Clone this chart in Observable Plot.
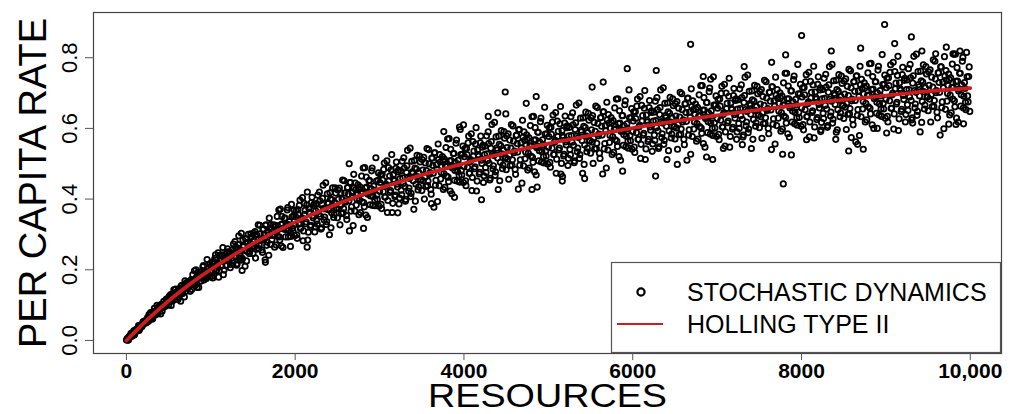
<!DOCTYPE html>
<html>
<head>
<meta charset="utf-8">
<script src="https://cdn.jsdelivr.net/npm/d3@7"></script>
<script src="https://cdn.jsdelivr.net/npm/@observablehq/plot@0.6"></script>
<style>
  html, body { margin: 0; padding: 0; background: #fff; }
  #chart { width: 1029px; height: 414px; }
  #chart svg { display: block; }
</style>
</head>
<body>
<div id="chart"></div>
<script>
// ---- data ----
const xTicks = [0, 2000, 4000, 6000, 8000, 10000];
const xTickLabels = ["0", "2000", "4000", "6000", "8000", "10,000"];
const yTicks = [0, 0.2, 0.4, 0.6, 0.8];
const yTickLabels = ["0.0", "0.2", "0.4", "0.6", "0.8"];
const xLabel = "RESOURCES";
const yLabel = "PER CAPITA RATE";
const legendLabels = ["STOCHASTIC DYNAMICS", "HOLLING TYPE II"];

// Holling type II curve (resources, per capita rate)
const hollingResources = [0, 250, 500, 750, 1000, 1500, 2000, 2500, 3000, 3500, 4000, 4500, 5000, 5500, 6000, 6500, 7000, 7500, 8000, 8500, 9000, 9500, 10000];
const hollingRates = [0, .059, .112, .159, .201, .274, .335, .386, .430, .468, .501, .531, .557, .580, .601, .620, .637, .653, .668, .681, .693, .705, .714];

// stochastic dynamics points: [resources, per capita rate] (first half)
const stochasticPointsA = [
[6,.003],[18,.001],[31,.011],[44,.009],[56,.020],[69,.013],[81,.020],[93,.015],[107,.030],[119,.031],[131,.029],[144,.042],[157,.032],[168,.041],[181,.039],[194,.050],[206,.048],[218,.054],[232,.049],[244,.058],
[255,.055],[268,.073],[279,.064],[293,.075],[306,.060],[318,.077],[331,.091],[342,.072],[356,.082],[369,.075],[381,.096],[394,.092],[406,.075],[419,.100],[430,.093],[443,.111],[457,.096],[468,.107],[481,.115],[494,.108],
[506,.125],[517,.110],[531,.099],[544,.129],[556,.125],[570,.116],[581,.145],[593,.128],[606,.119],[619,.145],[632,.142],[643,.111],[656,.156],[669,.137],[681,.147],[694,.169],[707,.139],[718,.159],[731,.153],[744,.167],
[756,.139],[769,.172],[781,.166],[794,.158],[806,.197],[818,.156],[831,.179],[844,.192],[857,.150],[868,.179],[881,.194],[893,.178],[906,.208],[919,.171],[931,.194],[943,.180],[956,.229],[969,.189],[981,.207],[993,.181],
[1004,.210],[1017,.182],[1031,.224],[1043,.202],[1056,.242],[1068,.197],[1082,.216],[1093,.179],[1106,.241],[1119,.231],[1131,.213],[1143,.263],[1157,.199],[1169,.233],[1181,.211],[1194,.251],[1206,.230],[1219,.248],[1231,.206],[1244,.242],
[1256,.225],[1268,.273],[1281,.239],[1294,.264],[1306,.213],[1319,.261],[1332,.296],[1343,.233],[1356,.254],[1368,.227],[1381,.284],[1393,.266],[1406,.210],[1418,.277],[1431,.252],[1444,.300],[1456,.246],[1469,.275],[1482,.293],[1493,.266],
[1505,.303],[1518,.265],[1530,.233],[1543,.299],[1556,.287],[1569,.260],[1581,.326],[1594,.283],[1606,.256],[1618,.314],[1631,.301],[1644,.228],[1656,.327],[1668,.278],[1681,.299],[1693,.346],[1706,.272],[1719,.315],[1731,.297],[1743,.327],
[1756,.264],[1768,.326],[1781,.312],[1793,.294],[1806,.369],[1818,.284],[1832,.328],[1843,.351],[1856,.263],[1869,.319],[1881,.346],[1893,.313],[1906,.369],[1919,.293],[1931,.336],[1944,.306],[1956,.385],[1968,.318],[1981,.352],[1994,.296],
[2006,.350],[2019,.299],[2031,.370],[2043,.329],[2057,.397],[2068,.318],[2081,.347],[2094,.282],[2106,.388],[2118,.368],[2131,.335],[2144,.420],[2156,.306],[2169,.363],[2181,.322],[2193,.390],[2206,.353],[2218,.382],[2232,.307],[2244,.367],
[2255,.339],[2268,.411],[2281,.357],[2293,.395],[2306,.315],[2318,.386],[2331,.439],[2344,.341],[2356,.372],[2368,.328],[2381,.415],[2394,.387],[2406,.299],[2419,.400],[2431,.361],[2443,.432],[2456,.348],[2469,.390],[2481,.417],[2493,.374],
[2506,.426],[2518,.372],[2531,.327],[2544,.417],[2556,.399],[2569,.361],[2581,.452],[2593,.391],[2607,.353],[2619,.432],[2631,.414],[2643,.310],[2656,.447],[2668,.378],[2681,.407],[2694,.470],[2706,.366],[2718,.426],[2731,.400],[2744,.440],
[2755,.356],[2768,.435],[2781,.416],[2793,.392],[2806,.488],[2819,.378],[2831,.432],[2843,.462],[2856,.348],[2869,.419],[2881,.453],[2894,.409],[2906,.480],[2918,.382],[2931,.437],[2944,.397],[2956,.517],[2968,.411],[2981,.453],[2993,.380],
[3006,.447],[3018,.385],[3031,.470],[3044,.421],[3056,.502],[3068,.406],[3081,.441],[3093,.362],[3106,.489],[3119,.465],[3131,.424],[3144,.526],[3157,.388],[3168,.456],[3181,.407],[3193,.487],[3206,.442],[3219,.477],[3231,.386],[3243,.458],
[3256,.425],[3268,.507],[3281,.444],[3293,.488],[3306,.394],[3318,.476],[3331,.538],[3344,.422],[3356,.458],[3369,.407],[3381,.507],[3394,.473],[3406,.371],[3419,.488],[3431,.442],[3444,.524],[3456,.426],[3468,.474],[3481,.505],[3494,.455],
[3505,.512],[3518,.452],[3531,.400],[3543,.502],[3556,.481],[3569,.438],[3582,.540],[3593,.470],[3606,.427],[3619,.516],[3631,.495],[3644,.377],[3656,.531],[3668,.453],[3681,.485],[3694,.556],[3706,.438],[3718,.505],[3731,.475],[3744,.520],
[3756,.427],[3768,.513],[3781,.492],[3794,.465],[3806,.570],[3818,.449],[3831,.508],[3843,.541],[3856,.415],[3868,.493],[3881,.529],[3893,.481],[3906,.558],[3919,.451],[3931,.510],[3943,.466],[3956,.597],[3969,.481],[3981,.527],[3994,.447],
[4006,.520],[4019,.452],[4031,.544],[4043,.490],[4056,.578],[4068,.473],[4082,.511],[4094,.424],[4106,.563],[4118,.536],[4131,.491],[4144,.602],[4156,.451],[4169,.526],[4181,.471],[4193,.559],[4206,.510],[4218,.547],[4231,.447],[4244,.526],
[4256,.489],[4268,.579],[4281,.509],[4293,.557],[4306,.454],[4318,.544],[4331,.611],[4344,.485],[4356,.523],[4369,.467],[4381,.576],[4394,.539],[4406,.427],[4419,.555],[4431,.504],[4443,.594],[4456,.486],[4468,.539],[4481,.572],[4494,.517],
[4505,.579],[4518,.513],[4531,.456],[4543,.567],[4556,.544],[4569,.496],[4581,.607],[4594,.531],[4606,.484],[4619,.580],[4631,.557],[4644,.428],[4656,.597],[4668,.511],[4681,.545],[4694,.623],[4706,.494],[4719,.566],[4731,.533],[4743,.582],
[4756,.482],[4769,.574],[4781,.550],[4794,.522],[4806,.633],[4818,.504],[4831,.567],[4844,.602],[4856,.468],[4868,.550],[4881,.589],[4893,.537],[4906,.619],[4919,.505],[4931,.568],[4943,.520],[4956,.660],[4969,.536],[4981,.585],[4993,.499],
[5006,.577],[5018,.504],[5031,.603],[5044,.544],[5056,.638],[5069,.526],[5081,.566],[5093,.473],[5106,.621],[5118,.592],[5131,.544],[5144,.662],[5156,.501],[5169,.580],[5181,.522],[5194,.615],[5206,.562],[5218,.602],[5232,.495],[5244,.579],
[5255,.540],[5268,.633],[5281,.561],[5294,.610],[5306,.503],[5318,.597],[5331,.666],[5343,.534],[5356,.574],[5369,.515],[5381,.629],[5393,.590],[5406,.473],[5419,.606],[5431,.553],[5444,.646],[5456,.534],[5468,.588],[5481,.623],[5494,.565],
[5506,.630],[5519,.561],[5531,.501],[5543,.617],[5556,.592],[5569,.543],[5581,.659],[5594,.579],[5606,.530],[5618,.630],[5631,.606],[5644,.471],[5656,.647],[5669,.557],[5681,.593],[5693,.674],[5706,.539],[5718,.615],[5731,.580],[5744,.631],
[5756,.526],[5768,.622],[5781,.597],[5794,.568],[5806,.683],[5819,.549],[5831,.614],[5843,.650],[5856,.510],[5869,.596],[5881,.636],[5894,.582],[5906,.667],[5918,.548],[5931,.613],[5944,.564],[5956,.709],[5968,.580],[5981,.630],[5993,.541],
[6006,.621],[6018,.547],[6031,.647],[6044,.588],[6056,.683],[6069,.569],[6081,.609],[6093,.515],[6106,.665],[6118,.636],[6131,.586],[6143,.707],[6157,.542],[6169,.623],[6181,.563],[6194,.659],[6206,.604],[6218,.645],[6231,.535],[6244,.621],
[6256,.581],[6268,.677],[6281,.602],[6293,.653],[6306,.543],[6319,.639],[6331,.709],[6344,.574],[6356,.615],[6368,.555],[6381,.671],[6394,.631],[6406,.512],[6419,.647],[6431,.593],[6443,.688],[6456,.573],[6469,.629],[6481,.664],[6494,.605],
[6505,.670],[6518,.601],[6531,.541],[6544,.657],[6556,.632],[6569,.583],[6581,.698],[6593,.618],[6606,.569],[6619,.669],[6631,.645],[6643,.510],[6656,.686],[6669,.596],[6681,.632],[6694,.712],[6706,.577],[6718,.653],[6731,.618],[6744,.669],
[6756,.564],[6768,.660],[6781,.635],[6793,.605],[6806,.721],[6818,.586],[6831,.652],[6844,.687],[6856,.547],[6869,.633],[6881,.673],[6893,.619],[6906,.704],[6919,.584],[6931,.650],[6943,.600],[6956,.746],[6968,.616],[6981,.666],[6994,.577],
[7006,.657],[7018,.583],[7031,.683],[7043,.623],[7056,.719],[7068,.604],[7081,.645],[7094,.550],[7106,.700],[7119,.671],[7131,.621],[7143,.742],[7156,.577],[7169,.657],[7181,.598],[7194,.693],[7206,.639],[7218,.679],[7231,.569],[7243,.655],
[7256,.614],[7268,.712],[7281,.636],[7294,.687],[7306,.576],[7318,.673],[7331,.745],[7343,.607],[7356,.648],[7368,.588],[7381,.705],[7394,.665],[7406,.543],[7418,.681],[7431,.625],[7444,.722],[7456,.606],[7468,.662],[7481,.698],[7494,.638],
[7506,.704],[7518,.633],[7531,.572],[7543,.690],[7556,.665],[7569,.614],[7581,.732],[7594,.651],[7606,.600],[7618,.702],[7631,.677],[7644,.540],[7656,.718],[7669,.627],[7681,.663],[7693,.745],[7706,.608],[7718,.685],[7731,.649],[7744,.701],
[7756,.592],[7768,.692],[7781,.666],[7793,.635],[7806,.756],[7819,.615],[7831,.684],[7843,.720],[7856,.575],[7869,.664],[7881,.706],[7893,.649],[7906,.738],[7918,.613],[7931,.682],[7944,.630],[7956,.781],[7968,.646],[7981,.698],[7994,.606],
[8006,.689],[8018,.611],[8031,.716],[8043,.653],[8056,.752],[8068,.634],[8081,.675],[8094,.576],[8106,.733],[8118,.702],[8131,.650],[8144,.776],[8156,.604],[8169,.688],[8181,.625],[8193,.725],[8206,.668],[8219,.709],[8231,.596],[8244,.684],
[8256,.643],[8268,.742],[8281,.665],[8293,.717],[8306,.603],[8319,.702],[8331,.775],[8344,.635],[8356,.677],[8368,.615],[8381,.735],[8394,.694],[8406,.569],[8419,.710],[8431,.653],[8443,.752],[8456,.633],[8469,.690],[8481,.727],[8494,.665],
[8505,.734],[8518,.660],[8531,.597],[8543,.719],[8556,.693],[8569,.641],[8581,.763],[8594,.678],[8606,.625],[8619,.732],[8631,.705],[8643,.562],[8656,.749],[8669,.653],[8681,.690],[8694,.776],[8706,.633],[8718,.713],[8731,.676],[8744,.729],
[8756,.618],[8769,.720],[8781,.693],[8794,.661],[8806,.783],[8818,.641],[8831,.710],[8844,.747],[8856,.600],[8868,.690],[8881,.732],[8893,.674],[8906,.765],[8919,.638],[8931,.707],[8943,.655],[8956,.809],[8969,.671],[8981,.725],[8993,.629],
[9006,.715],[9018,.634],[9031,.743],[9044,.678],[9056,.780],[9068,.657],[9081,.700],[9093,.598],[9106,.761],[9119,.728],[9131,.674],[9143,.804],[9157,.627],[9168,.713],[9181,.648],[9194,.752],[9206,.693],[9218,.736],[9231,.618],[9244,.710],
[9255,.667],[9268,.769],[9281,.689],[9293,.743],[9306,.624],[9318,.728],[9331,.804],[9344,.658],[9356,.702],[9369,.637],[9381,.761],[9393,.718],[9406,.590],[9419,.735],[9431,.676],[9444,.780],[9456,.655],[9468,.715],[9481,.754],[9494,.689],
[9506,.760],[9518,.683],[9531,.618],[9543,.745],[9556,.717],[9569,.662],[9581,.790],[9594,.701],[9606,.646],[9619,.757],[9631,.730],[9643,.581],[9656,.774],[9668,.675],[9681,.715],[9694,.803],[9706,.654],[9718,.737],[9731,.699],[9744,.754],
[9756,.638],[9768,.743],[9781,.716],[9793,.683],[9806,.810],[9818,.661],[9831,.733],[9843,.772],[9856,.618],[9868,.712],[9881,.756],[9893,.695],[9906,.790],[9919,.658],[9931,.730],[9943,.674],[9956,.815],[9968,.692],[9981,.747],[9994,.648],
[8985,.894],[8001,.863],[9302,.859],[6686,.838],[7784,.443],[7776,.527],[7880,.525],[6948,.512],[8559,.536],[8732,.541],[8665,.555],[8590,.574],[5935,.769],[6279,.764],[4489,.703],[4856,.690],[5519,.717],[5650,.731],[4738,.671],[4288,.634],
[4401,.644],[4496,.641],[3761,.591],[3947,.604],[3995,.610],[6271,.465],[5880,.479],[6528,.498],[5430,.458],[5165,.451],[5168,.464],[4868,.434],[4806,.427],[4208,.398],[3888,.405],[3615,.387],[3216,.361],[2640,.500],[1371,.198],[1647,.221],
[1944,.266],[2142,.264],[2810,.317],[9745,.612],[9830,.611],[9920,.613],[9716,.830],[9104,.840],[8353,.819],[7646,.787],[7321,.775],[6923,.739],[6836,.747],[9427,.819],[9590,.811],[9795,.811],[9878,.819],[7812,.808],[8701,.827],[9317,.615],
[9009,.587],[8898,.600],[8412,.589],[8227,.591],[8060,.568],[7299,.554],[7074,.543],[6875,.519]
];

// stochastic dynamics points: [resources, per capita rate] (second half)
const stochasticPointsB = [
[1,.001],[12,.006],[24,.001],[37,.011],[49,.016],[62,.012],[74,.017],[87,.027],[99,.019],[112,.028],[124,.027],[137,.036],[149,.028],[162,.041],[174,.042],[187,.041],[199,.053],[212,.049],[224,.056],[237,.052],
[251,.065],[262,.054],[274,.066],[287,.079],[299,.066],[312,.062],[324,.082],[337,.078],[349,.076],[362,.099],[374,.077],[387,.091],[399,.089],[412,.102],[424,.083],[437,.103],[449,.101],[462,.098],[474,.117],[487,.107],
[501,.100],[512,.118],[524,.130],[537,.117],[549,.112],[562,.143],[574,.120],[587,.136],[599,.131],[612,.116],[624,.146],[637,.137],[649,.154],[662,.132],[674,.150],[687,.123],[699,.158],[712,.164],[724,.147],[737,.159],
[751,.167],[762,.156],[774,.144],[787,.186],[799,.169],[812,.160],[824,.200],[837,.150],[849,.182],[862,.176],[874,.193],[887,.168],[899,.187],[912,.212],[924,.182],[937,.190],[949,.175],[962,.204],[974,.185],[987,.216],
[1001,.197],[1012,.221],[1024,.177],[1037,.217],[1049,.232],[1062,.196],[1074,.212],[1087,.248],[1099,.196],[1112,.224],[1124,.210],[1137,.242],[1149,.186],[1162,.238],[1174,.231],[1187,.213],[1199,.259],[1212,.227],[1224,.251],[1237,.215],
[1251,.256],[1262,.219],[1274,.247],[1287,.280],[1299,.236],[1312,.217],[1324,.271],[1337,.254],[1349,.239],[1362,.303],[1374,.232],[1387,.268],[1399,.255],[1412,.288],[1424,.225],[1437,.277],[1449,.267],[1462,.252],[1474,.302],[1487,.265],
[1501,.246],[1512,.284],[1524,.308],[1537,.273],[1549,.258],[1562,.327],[1574,.269],[1587,.302],[1599,.286],[1612,.249],[1624,.315],[1637,.288],[1649,.326],[1662,.269],[1674,.307],[1687,.241],[1699,.318],[1712,.328],[1724,.285],[1737,.309],
[1751,.321],[1762,.297],[1774,.270],[1787,.351],[1799,.314],[1812,.293],[1824,.372],[1837,.267],[1849,.330],[1862,.315],[1874,.346],[1887,.293],[1899,.329],[1912,.376],[1924,.313],[1937,.327],[1949,.294],[1962,.350],[1974,.310],[1987,.369],
[2001,.328],[2012,.368],[2024,.289],[2037,.356],[2049,.382],[2062,.317],[2074,.343],[2087,.404],[2099,.310],[2112,.357],[2124,.330],[2137,.384],[2149,.284],[2162,.373],[2174,.360],[2187,.326],[2199,.405],[2212,.347],[2224,.386],[2237,.321],
[2251,.387],[2262,.329],[2274,.371],[2287,.420],[2299,.351],[2312,.319],[2324,.402],[2337,.373],[2349,.349],[2362,.446],[2374,.336],[2387,.390],[2399,.369],[2412,.418],[2424,.319],[2437,.398],[2449,.381],[2462,.356],[2474,.432],[2487,.374],
[2501,.347],[2512,.399],[2524,.431],[2537,.382],[2549,.359],[2562,.454],[2574,.373],[2587,.417],[2599,.395],[2612,.342],[2624,.433],[2637,.395],[2649,.447],[2662,.366],[2674,.418],[2687,.325],[2699,.432],[2712,.445],[2724,.383],[2737,.416],
[2751,.430],[2762,.398],[2774,.362],[2787,.465],[2799,.417],[2812,.390],[2824,.489],[2837,.355],[2849,.434],[2862,.414],[2874,.452],[2887,.384],[2899,.430],[2912,.488],[2924,.407],[2937,.425],[2949,.381],[2962,.451],[2974,.399],[2987,.474],
[3001,.422],[3012,.469],[3024,.373],[3037,.454],[3049,.484],[3062,.406],[3074,.436],[3087,.508],[3099,.396],[3112,.452],[3124,.419],[3137,.483],[3149,.362],[3162,.468],[3174,.452],[3187,.411],[3199,.505],[3212,.434],[3224,.482],[3237,.403],
[3251,.480],[3262,.412],[3274,.460],[3287,.517],[3299,.436],[3312,.399],[3324,.494],[3337,.461],[3349,.431],[3362,.544],[3374,.416],[3387,.477],[3399,.452],[3412,.509],[3424,.394],[3437,.485],[3449,.464],[3462,.435],[3474,.522],[3487,.454],
[3501,.424],[3512,.482],[3524,.518],[3537,.462],[3549,.436],[3562,.543],[3574,.451],[3587,.500],[3599,.475],[3612,.414],[3624,.516],[3637,.473],[3649,.531],[3662,.439],[3674,.497],[3687,.393],[3699,.512],[3712,.526],[3724,.457],[3737,.493],
[3751,.508],[3762,.472],[3774,.433],[3787,.546],[3799,.493],[3812,.462],[3824,.571],[3837,.423],[3849,.509],[3862,.488],[3874,.529],[3887,.453],[3899,.504],[3912,.567],[3924,.478],[3937,.497],[3949,.448],[3962,.526],[3974,.468],[3987,.550],
[4001,.492],[4012,.543],[4024,.438],[4037,.526],[4049,.559],[4062,.473],[4074,.506],[4087,.585],[4099,.461],[4112,.522],[4124,.486],[4137,.556],[4149,.423],[4162,.539],[4174,.521],[4187,.476],[4199,.578],[4212,.501],[4224,.552],[4237,.466],
[4251,.550],[4262,.475],[4274,.528],[4287,.590],[4299,.501],[4312,.459],[4324,.563],[4337,.527],[4349,.494],[4362,.617],[4374,.477],[4387,.544],[4399,.516],[4412,.578],[4424,.452],[4437,.551],[4449,.528],[4462,.496],[4474,.591],[4487,.516],
[4501,.483],[4512,.546],[4524,.585],[4537,.523],[4549,.495],[4562,.611],[4574,.511],[4587,.564],[4599,.536],[4612,.470],[4624,.581],[4637,.533],[4649,.596],[4662,.496],[4674,.559],[4687,.445],[4699,.575],[4712,.590],[4724,.514],[4737,.553],
[4751,.568],[4762,.530],[4774,.488],[4787,.608],[4799,.551],[4812,.518],[4824,.634],[4837,.477],[4849,.568],[4862,.545],[4874,.589],[4887,.508],[4899,.561],[4912,.629],[4924,.534],[4937,.554],[4949,.502],[4962,.584],[4974,.522],[4987,.609],
[5001,.547],[5012,.602],[5024,.490],[5037,.583],[5049,.618],[5062,.526],[5074,.561],[5087,.645],[5099,.513],[5112,.577],[5124,.539],[5137,.613],[5149,.471],[5162,.594],[5174,.575],[5187,.527],[5199,.635],[5212,.553],[5224,.607],[5237,.515],
[5251,.603],[5262,.525],[5274,.580],[5287,.644],[5299,.552],[5312,.508],[5324,.616],[5337,.578],[5349,.544],[5362,.672],[5374,.526],[5387,.595],[5399,.566],[5412,.630],[5424,.498],[5437,.602],[5449,.578],[5462,.544],[5474,.643],[5487,.565],
[5501,.530],[5512,.596],[5524,.636],[5537,.572],[5549,.542],[5562,.663],[5574,.558],[5587,.614],[5599,.584],[5612,.515],[5624,.631],[5637,.581],[5649,.647],[5662,.542],[5674,.608],[5687,.488],[5699,.624],[5712,.639],[5724,.560],[5737,.600],
[5751,.616],[5762,.577],[5774,.532],[5787,.658],[5799,.598],[5812,.564],[5824,.684],[5837,.520],[5849,.615],[5862,.591],[5874,.636],[5887,.552],[5899,.607],[5912,.678],[5924,.578],[5937,.599],[5949,.544],[5962,.630],[5974,.565],[5987,.656],
[6001,.591],[6012,.647],[6024,.532],[6037,.628],[6049,.663],[6062,.569],[6074,.604],[6087,.690],[6099,.555],[6112,.621],[6124,.581],[6137,.657],[6149,.512],[6162,.638],[6174,.618],[6187,.569],[6199,.679],[6212,.595],[6224,.650],[6237,.556],
[6251,.646],[6262,.566],[6274,.622],[6287,.687],[6299,.593],[6312,.548],[6324,.659],[6337,.619],[6349,.585],[6362,.715],[6374,.566],[6387,.636],[6399,.606],[6412,.672],[6424,.537],[6437,.643],[6449,.618],[6462,.584],[6474,.684],[6487,.605],
[6501,.570],[6512,.635],[6524,.676],[6537,.611],[6549,.582],[6562,.702],[6574,.598],[6587,.653],[6599,.624],[6612,.554],[6624,.670],[6637,.620],[6649,.685],[6662,.581],[6674,.646],[6687,.527],[6699,.662],[6712,.678],[6724,.598],[6737,.639],
[6751,.654],[6762,.614],[6774,.570],[6787,.695],[6799,.636],[6812,.601],[6824,.721],[6837,.557],[6849,.652],[6862,.628],[6874,.673],[6887,.588],[6899,.644],[6912,.714],[6924,.615],[6937,.635],[6949,.580],[6962,.666],[6974,.601],[6987,.692],
[7001,.627],[7012,.682],[7024,.568],[7037,.663],[7049,.699],[7062,.604],[7074,.639],[7087,.725],[7099,.590],[7112,.656],[7124,.616],[7137,.691],[7149,.547],[7162,.672],[7174,.653],[7187,.603],[7199,.713],[7212,.629],[7224,.684],[7237,.590],
[7251,.681],[7262,.600],[7274,.656],[7287,.723],[7299,.626],[7312,.581],[7324,.693],[7337,.653],[7349,.618],[7362,.751],[7374,.598],[7387,.670],[7399,.640],[7412,.706],[7424,.569],[7437,.677],[7449,.651],[7462,.616],[7474,.719],[7487,.637],
[7501,.602],[7512,.669],[7524,.710],[7537,.644],[7549,.614],[7562,.736],[7574,.630],[7587,.686],[7599,.656],[7612,.585],[7624,.702],[7637,.652],[7649,.718],[7662,.612],[7674,.678],[7687,.556],[7699,.694],[7712,.710],[7724,.629],[7737,.670],
[7751,.686],[7762,.645],[7774,.598],[7787,.729],[7799,.667],[7812,.631],[7824,.756],[7837,.585],[7849,.684],[7862,.658],[7874,.706],[7887,.618],[7899,.675],[7912,.748],[7924,.645],[7937,.666],[7949,.609],[7962,.698],[7974,.631],[7987,.725],
[8001,.658],[8012,.715],[8024,.596],[8037,.695],[8049,.732],[8062,.633],[8074,.670],[8087,.759],[8099,.618],[8112,.686],[8124,.645],[8137,.723],[8149,.573],[8162,.703],[8174,.683],[8187,.631],[8199,.746],[8212,.658],[8224,.715],[8237,.617],
[8251,.710],[8262,.628],[8274,.685],[8287,.753],[8299,.655],[8312,.608],[8324,.723],[8337,.682],[8349,.646],[8362,.781],[8374,.626],[8387,.699],[8399,.668],[8412,.736],[8424,.596],[8437,.705],[8449,.680],[8462,.644],[8474,.748],[8487,.665],
[8501,.628],[8512,.697],[8524,.740],[8537,.671],[8549,.640],[8562,.767],[8574,.656],[8587,.715],[8599,.683],[8612,.610],[8624,.732],[8637,.679],[8649,.748],[8662,.637],[8674,.706],[8687,.580],[8699,.723],[8712,.739],[8724,.655],[8737,.697],
[8751,.714],[8762,.671],[8774,.624],[8787,.757],[8799,.694],[8812,.657],[8824,.784],[8837,.610],[8849,.711],[8862,.684],[8874,.732],[8887,.643],[8899,.701],[8912,.776],[8924,.670],[8937,.692],[8949,.634],[8962,.724],[8974,.655],[8987,.751],
[9001,.682],[9012,.742],[9024,.618],[9037,.721],[9049,.759],[9062,.657],[9074,.695],[9087,.787],[9099,.641],[9112,.712],[9124,.669],[9137,.750],[9149,.594],[9162,.729],[9174,.708],[9187,.654],[9199,.773],[9212,.682],[9224,.742],[9237,.639],
[9251,.737],[9262,.651],[9274,.710],[9287,.781],[9299,.679],[9312,.630],[9324,.749],[9337,.707],[9349,.669],[9362,.810],[9374,.648],[9387,.724],[9399,.692],[9412,.762],[9424,.617],[9437,.731],[9449,.704],[9462,.666],[9474,.775],[9487,.689],
[9501,.650],[9512,.722],[9524,.766],[9537,.695],[9549,.662],[9562,.794],[9574,.679],[9587,.740],[9599,.707],[9612,.630],[9624,.757],[9637,.702],[9649,.774],[9662,.659],[9674,.731],[9687,.599],[9699,.748],[9712,.764],[9724,.677],[9737,.721],
[9751,.738],[9762,.694],[9774,.644],[9787,.782],[9799,.716],[9812,.678],[9824,.810],[9837,.629],[9849,.734],[9862,.706],[9874,.756],[9887,.663],[9899,.723],[9912,.801],[9924,.691],[9937,.713],[9949,.653],[9962,.746],[9974,.675],[9987,.774]
];

// ---- build tables for the library ----
const points = stochasticPointsA.concat(stochasticPointsB).map(([resources, rate]) => ({resources, rate}));
const curve = hollingResources.map((resources, i) => ({resources, rate: hollingRates[i]}));

const FONT = "'Liberation Sans', Arial, Helvetica, sans-serif";
const RED = "#d01c1c";

const svg = Plot.plot({
  width: 1029,
  height: 414,
  marginLeft: 93,
  marginRight: 28,
  marginTop: 12,
  marginBottom: 61,
  style: {fontFamily: FONT, background: "#fff", color: "#000", overflow: "visible"},
  x: {domain: [-390, 10370]},
  y: {domain: [-0.037, 0.928]},
  marks: [
    Plot.dot(points, {x: "resources", y: "rate", r: 2.7, stroke: "#000", strokeWidth: 1.75, fill: "none"}),
    Plot.line(curve, {x: "resources", y: "rate", stroke: RED, strokeWidth: 3.6, curve: "natural"}),
    Plot.frame({stroke: "#444", strokeWidth: 1.2}),
    Plot.axisX(xTicks, {
      tickSize: 7, tickPadding: 3, fontSize: 21, fontWeight: "bold", fill: "#000", stroke: "#555",
      tickFormat: d => xTickLabels[xTicks.indexOf(d)], label: null
    }),
    Plot.axisY(yTicks, {tickSize: 8, stroke: "#555", tickFormat: () => "", label: null}),
    Plot.text(yTicks, {
      y: d => d, text: (d, i) => yTickLabels[i], frameAnchor: "left", dx: -17, rotate: -90,
      textAnchor: "middle", lineAnchor: "bottom", fontSize: 22, fill: "#000"
    }),
    Plot.text([yLabel], {
      text: d => d, frameAnchor: "left", dx: -48, rotate: -90,
      textAnchor: "middle", lineAnchor: "bottom", fontSize: 38, fill: "#000"
    }),
    Plot.text([xLabel], {
      text: d => d, frameAnchor: "bottom", dy: 53,
      textAnchor: "middle", lineAnchor: "bottom", fontSize: 33, fill: "#000"
    })
  ]
});

// the x-axis title is drawn wide, as in the picture
d3.select(svg).selectAll("text").filter(function () { return this.textContent === xLabel; })
  .attr("textLength", 239).attr("lengthAdjust", "spacingAndGlyphs");

// legend box (bottom-right, inside the plot frame)
const lg = d3.select(svg).append("g").attr("font-family", FONT).attr("text-anchor", "start");
lg.append("rect").attr("x", 611.5).attr("y", 262.5).attr("width", 389).attr("height", 90)
  .attr("fill", "#fff").attr("stroke", "#555").attr("stroke-width", 1.2);
lg.append("circle").attr("cx", 641).attr("cy", 292).attr("r", 3.6)
  .attr("fill", "none").attr("stroke", "#000").attr("stroke-width", 2.2);
lg.append("line").attr("x1", 617).attr("x2", 663).attr("y1", 324).attr("y2", 324)
  .attr("stroke", RED).attr("stroke-width", 2.2);
lg.append("text").attr("x", 687).attr("y", 301).attr("font-size", 25).attr("fill", "#000")
  .attr("text-anchor", "start").text(legendLabels[0]);
lg.append("text").attr("x", 687).attr("y", 333).attr("font-size", 25).attr("fill", "#000")
  .attr("text-anchor", "start").text(legendLabels[1]);

document.getElementById("chart").appendChild(svg);
</script>
</body>
</html>
